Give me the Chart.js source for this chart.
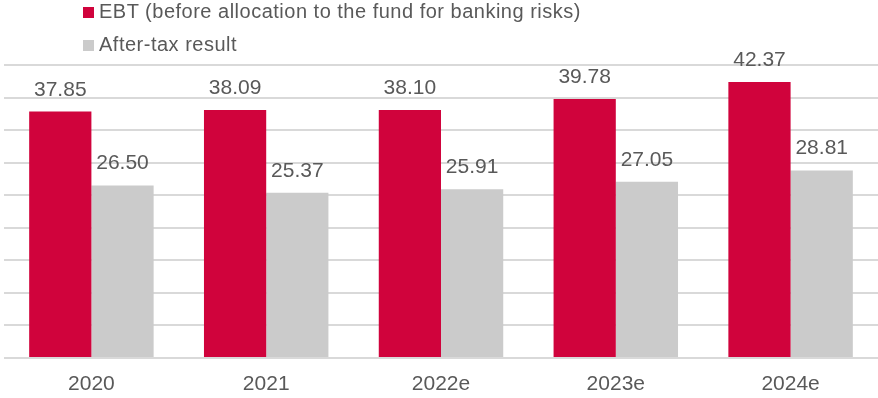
<!DOCTYPE html>
<html>
<head>
<meta charset="utf-8">
<script src="https://cdn.jsdelivr.net/npm/chart.js@4/dist/chart.umd.min.js"></script>
<style>
  html, body { margin: 0; padding: 0; background: #fff; }
  #wrap { position: relative; width: 878px; height: 398px; }
  #legend { position: absolute; left: 83px; top: 0; font-family: "Liberation Sans", Arial, sans-serif; font-size: 20px; letter-spacing: 0.5px; color: #595959; }
  .item { position: absolute; left: 0; white-space: nowrap; height: 24px; line-height: 24px; }
  .box { position: absolute; left: 0; top: 8px; width: 11px; height: 11px; }
  .txt { position: absolute; left: 16px; top: 0; }
</style>
</head>
<body>
<div id="wrap">
  <canvas id="c" width="878" height="398"></canvas>
  <div id="legend"></div>
</div>
<script>
const categories = ["2020", "2021", "2022e", "2023e", "2024e"];
const ebtValues = [37.85, 38.09, 38.10, 39.78, 42.37];
const afterTaxValues = [26.50, 25.37, 25.91, 27.05, 28.81];
const seriesNames = ["EBT (before allocation to the fund for banking risks)", "After-tax result"];
const seriesColors = ["#D0033C", "#CBCBCB"];

const labelPlugin = {
  id: 'valueLabels',
  afterDatasetsDraw(chart) {
    const ctx = chart.ctx;
    ctx.save();
    ctx.font = '21px "Liberation Sans", Arial, sans-serif';
    ctx.fillStyle = '#595959';
    ctx.textAlign = 'center';
    ctx.textBaseline = 'alphabetic';
    chart.data.datasets.forEach((ds, di) => {
      const meta = chart.getDatasetMeta(di);
      meta.data.forEach((bar, i) => {
        ctx.fillText(ds.data[i].toFixed(2), bar.x, bar.y - 16);
      });
    });
    ctx.restore();
  }
};

const chart = new Chart(document.getElementById('c'), {
  type: 'bar',
  data: {
    labels: categories,
    datasets: [
      { label: seriesNames[0], data: ebtValues, backgroundColor: seriesColors[0] },
      { label: seriesNames[1], data: afterTaxValues, backgroundColor: seriesColors[1] }
    ]
  },
  options: {
    responsive: false,
    animation: false,
    layout: { padding: { top: 65, left: 4, right: 0, bottom: 0 } },
    plugins: { legend: { display: false }, tooltip: { enabled: false } },
    datasets: { bar: { categoryPercentage: 0.712, barPercentage: 1.0 } },
    scales: {
      x: {
        grid: { display: false, drawTicks: false },
        border: { display: false },
        ticks: { color: '#595959', font: { family: '"Liberation Sans", Arial, sans-serif', size: 21 }, padding: 14 },
        afterFit(scale) { scale.height = 40; }
      },
      y: {
        min: 0, max: 45,
        ticks: { display: false, stepSize: 5 },
        grid: { color: '#d9d9d9', lineWidth: 2, drawTicks: false },
        border: { display: false }
      }
    }
  },
  plugins: [labelPlugin]
});

const legend = document.getElementById('legend');
chart.data.datasets.forEach((ds, i) => {
  const item = document.createElement('div');
  item.className = 'item';
  item.style.top = (-1 + i * 33) + 'px';
  const box = document.createElement('span');
  box.className = 'box';
  box.style.background = ds.backgroundColor;
  const txt = document.createElement('span');
  txt.className = 'txt';
  txt.textContent = ds.label;
  item.appendChild(box); item.appendChild(txt);
  legend.appendChild(item);
});
</script>
</body>
</html>
